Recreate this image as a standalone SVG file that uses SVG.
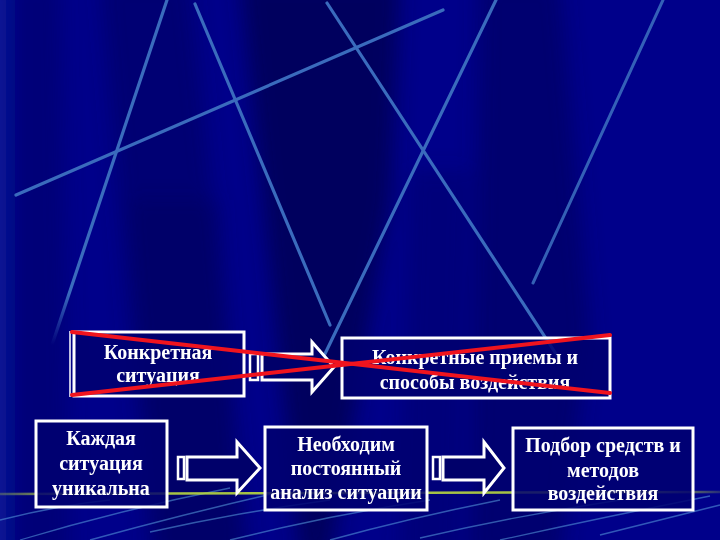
<svg xmlns="http://www.w3.org/2000/svg" width="720" height="540" viewBox="0 0 720 540">
<style>
.t{font-family:"Liberation Serif","DejaVu Serif",serif;font-weight:bold;font-size:20px;fill:#ffffff;text-anchor:middle}
.box{fill:#000070;fill-opacity:0.85;stroke:#ffffff;stroke-width:3}
.arr{fill:#00006a;stroke:#ffffff;stroke-width:3;stroke-linejoin:miter}
.stub{fill:#00006a;stroke:#ffffff;stroke-width:2.5}
.bl{stroke:#3a6bbd;stroke-width:3.2;stroke-linecap:round}
.st{stroke:#5aa0e0;stroke-width:1.3;fill:none;opacity:0.55}
.x{stroke:#f0141e;stroke-width:4;stroke-linecap:round}
</style>
<defs>
<linearGradient id="gl" x1="0" y1="0" x2="1" y2="0">
<stop offset="0" stop-color="#b8d840" stop-opacity="0.3"/>
<stop offset="0.1" stop-color="#b8d840" stop-opacity="0.9"/>
<stop offset="0.9" stop-color="#b8d840" stop-opacity="0.9"/>
<stop offset="1" stop-color="#b8d840" stop-opacity="0.2"/>
</linearGradient>
<linearGradient id="fadeA" x1="0" y1="0" x2="0" y2="1">
<stop offset="0" stop-color="#3a6bbd"/>
<stop offset="0.85" stop-color="#3a6bbd"/>
<stop offset="1" stop-color="#3a6bbd" stop-opacity="0"/>
</linearGradient>
<filter id="soft" x="-10%" y="-10%" width="120%" height="120%">
<feGaussianBlur stdDeviation="10"/>
</filter>
</defs>
<g id="background">
<rect width="720" height="540" fill="#00008a"/>
<g filter="url(#soft)">
<rect x="-20" y="-20" width="26" height="580" fill="#0a1a9a"/>
<polygon points="12,-20 60,-20 70,560 12,560" fill="#000066" opacity="0.5"/>
<polygon points="100,-20 190,-20 250,560 150,560" fill="#000050" opacity="0.4"/>
<polygon points="240,-20 400,-20 390,200 330,560 300,560" fill="#000040" opacity="0.6"/>
<polygon points="130,200 220,200 240,560 160,560" fill="#000050" opacity="0.3"/>
<polygon points="480,-20 560,-20 590,330 560,560 470,560" fill="#000050" opacity="0.45"/>
<polygon points="410,170 470,170 460,560 400,560" fill="#000055" opacity="0.3"/>
</g>
<line x1="167" y1="0" x2="52" y2="345" stroke="url(#fadeA)" stroke-width="3.2" stroke-linecap="round"/>
<line class="bl" x1="195" y1="4" x2="330" y2="325"/>
<line class="bl" x1="16" y1="195" x2="443" y2="10"/>
<line class="bl" x1="327" y1="3" x2="560" y2="360"/>
<line class="bl" x1="496" y1="0" x2="322" y2="360"/>
<line x1="663" y1="0" x2="533" y2="283" stroke="#3a6bbd" stroke-width="3" stroke-linecap="round" opacity="0.9"/>
<path class="st" d="M20,540 Q120,510 230,488"/>
<path class="st" d="M90,540 Q180,515 280,492"/>
<path class="st" d="M150,532 Q240,512 330,500"/>
<path class="st" d="M230,540 Q330,515 430,500"/>
<path class="st" d="M330,540 Q410,518 500,500"/>
<path class="st" d="M420,538 Q520,515 620,500"/>
<path class="st" d="M500,540 Q600,518 710,496"/>
<path class="st" d="M600,535 Q660,520 720,505"/>
<path class="st" d="M0,520 Q60,505 110,500"/>
<line x1="0" y1="494" x2="720" y2="492" stroke="url(#gl)" stroke-width="2.5"/>
</g>
<g id="connectors">
<rect class="stub" x="250" y="354" width="8" height="26"/>
<path class="arr" d="M262,354 H312 V342 L334,367 L312,392 V380 H262 Z"/>
<rect class="stub" x="178" y="457" width="6" height="22"/>
<path class="arr" d="M187,457 H237 V442 L260,468 L237,493 V480 H187 Z"/>
<rect class="stub" x="433" y="457" width="7" height="22"/>
<path class="arr" d="M443,457 H484 V442 L504,468 L484,493 V480 H443 Z"/>
</g>
<g id="n1">
<rect class="box" x="74" y="332" width="170" height="64" stroke-width="4"/>
<line x1="70" y1="331" x2="70" y2="397" stroke="#ffffff" stroke-width="1.5"/>
<text class="t" x="158" y="359">Конкретная</text>
<text class="t" x="158" y="382">ситуация</text>
</g>
<g id="n2">
<rect class="box" x="342" y="338" width="268" height="60"/>
<text class="t" x="475" y="364">Конкретные приемы и</text>
<text class="t" x="475" y="389">способы воздействия</text>
</g>
<g id="n3">
<rect class="box" x="36" y="421" width="131" height="86" stroke-width="6"/>
<text class="t" x="101" y="445">Каждая</text>
<text class="t" x="101" y="470">ситуация</text>
<text class="t" x="101" y="495">уникальна</text>
</g>
<g id="n4">
<rect class="box" x="265" y="427" width="162" height="83"/>
<text class="t" x="346" y="451">Необходим</text>
<text class="t" x="346" y="475">постоянный</text>
<text class="t" x="346" y="499">анализ ситуации</text>
</g>
<g id="n5">
<rect class="box" x="513" y="428" width="180" height="82"/>
<text class="t" x="603" y="452">Подбор средств и</text>
<text class="t" x="603" y="477">методов</text>
<text class="t" x="603" y="500">воздействия</text>
</g>
<g id="cross">
<line class="x" x1="72" y1="332" x2="610" y2="393"/>
<line class="x" x1="72" y1="395" x2="610" y2="335"/>
</g>
</svg>
